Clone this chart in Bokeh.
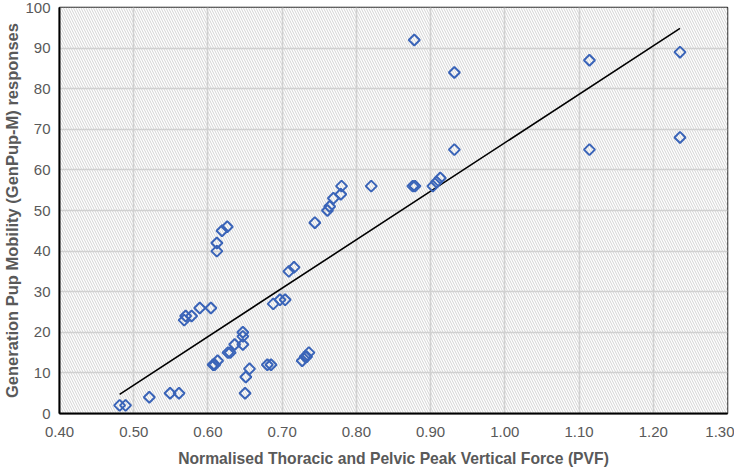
import numpy as np
from bokeh.plotting import figure
from bokeh.models import BoxAnnotation, FixedTicker, NumeralTickFormatter, Range1d
from bokeh.embed import file_html
from bokeh.resources import INLINE

# Normalised PVF (x) and GenPup-M responses (y)
pvf = [0.481, 0.489, 0.521, 0.549, 0.561, 0.568, 0.570, 0.578, 0.589, 0.604,
       0.607, 0.609, 0.613, 0.612, 0.612, 0.619, 0.626, 0.627, 0.630, 0.636,
       0.647, 0.647, 0.647, 0.650, 0.651, 0.656, 0.680, 0.685, 0.688, 0.697,
       0.704, 0.709, 0.716, 0.727, 0.731, 0.733, 0.736, 0.744, 0.761, 0.764,
       0.769, 0.779, 0.780, 0.820, 0.876, 0.879, 0.878, 0.903, 0.908, 0.913,
       0.932, 0.932, 1.114, 1.114, 1.236, 1.236]
genpup = [2, 2, 4, 5, 5, 23, 24, 24, 26, 26,
          12, 12, 13, 40, 42, 45, 46, 15, 15, 17,
          17, 19, 20, 5, 9, 11, 12, 12, 27, 28,
          28, 35, 36, 13, 14, 14, 15, 47, 50, 51,
          53, 54, 56, 56, 56, 56, 92, 56, 57, 58,
          65, 84, 87, 65, 89, 68]

x_ticks = [0.4, 0.5, 0.6, 0.7, 0.8, 0.9, 1.0, 1.1, 1.2, 1.3]
y_ticks = [0, 10, 20, 30, 40, 50, 60, 70, 80, 90, 100]

x_label = "Normalised Thoracic and Pelvic Peak Vertical Force (PVF)"
y_label = "Generation Pup Mobility (GenPup-M) responses"

FONT = "Liberation Sans"
GREY = "#595959"

p = figure(width=734, height=472, output_backend="svg", toolbar_location=None,
           x_range=Range1d(0.4, 1.3), y_range=Range1d(0, 100),
           min_border_left=52, min_border_right=7, min_border_top=7,
           min_border_bottom=59)

# hatched plot background
p.add_layout(BoxAnnotation(fill_color="white", fill_alpha=1.0,
                           hatch_pattern="\\", hatch_color="#c8c8c8",
                           hatch_scale=5, hatch_weight=0.8,
                           line_color=None, level="image"))

p.background_fill_color = "white"
p.outline_line_color = "#222222"
p.outline_line_width = 1.5

for g in (p.xgrid, p.ygrid):
    g.grid_line_color = "#d0d0d0"
    g.grid_line_width = 1.6

p.xaxis.ticker = FixedTicker(ticks=x_ticks)
p.yaxis.ticker = FixedTicker(ticks=y_ticks)
p.xaxis.formatter = NumeralTickFormatter(format="0.00")

for ax in (p.xaxis, p.yaxis):
    ax.axis_line_color = "black"
    ax.axis_line_width = 2
    ax.major_tick_line_color = None
    ax.minor_tick_line_color = None
    ax.major_tick_out = 0
    ax.major_tick_in = 0
    ax.minor_tick_out = 0
    ax.minor_tick_in = 0
    ax.major_label_text_font = FONT
    ax.major_label_text_font_size = "15px"
    ax.major_label_text_color = GREY
    ax.axis_label_text_font = FONT
    ax.axis_label_text_font_style = "bold"
    ax.axis_label_text_color = GREY

p.xaxis.axis_label_text_font_size = "15.7px"
p.yaxis.axis_label_text_font_size = "16.5px"
p.xaxis.axis_label = x_label
p.yaxis.axis_label = y_label
p.xaxis.major_label_standoff = 13
p.yaxis.major_label_standoff = 9
p.xaxis.axis_label_standoff = 10
p.yaxis.axis_label_standoff = 1

# linear trend line (least squares), drawn across the data range
slope, intercept = np.polyfit(pvf, genpup, 1)
xs = [min(pvf), max(pvf)]
ys = [slope * v + intercept for v in xs]
p.line(xs, ys, line_color="black", line_width=1.6)

p.scatter(pvf, genpup, marker="square", size=7.8, angle=np.pi / 4,
          fill_color=None, line_color="#3a64b8", line_width=2)

open("out.html", "w").write(file_html(p, INLINE))
